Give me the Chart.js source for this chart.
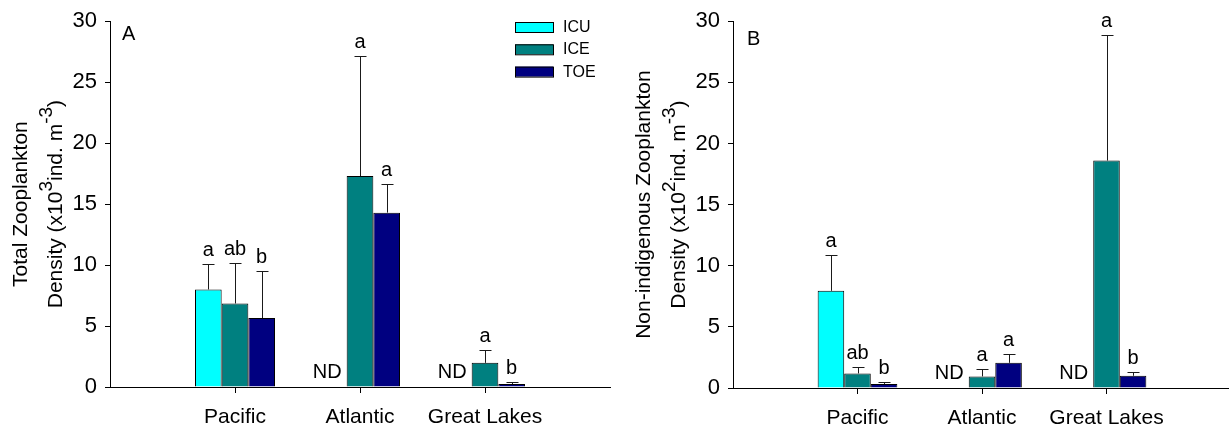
<!DOCTYPE html>
<html>
<head>
<meta charset="utf-8">
<script src="https://cdn.jsdelivr.net/npm/chart.js@4.4.1/dist/chart.umd.min.js"></script>
<style>
  html, body { margin: 0; padding: 0; background: #fff; overflow: hidden; width: 1229px; height: 428px; }
  canvas { position: absolute; top: 0; }
  #panelA { left: 0; }
  #panelB { left: 623px; }
</style>
</head>
<body>
<canvas id="panelA" width="622" height="428"></canvas>
<canvas id="panelB" width="622" height="428"></canvas>
<script>
// Categories and series
const regions = ['Pacific', 'Atlantic', 'Great Lakes'];
const seriesNames = ['ICU', 'ICE', 'TOE'];
const seriesColors = ['#00FFFF', '#008080', '#000080'];
const yTickValues = [0, 5, 10, 15, 20, 25, 30];

// Panel A: total zooplankton density (x10^3 ind. m^-3), means
const totalICU = [8.0, null, null];
const totalICE = [6.85, 17.3, 1.98];
const totalTOE = [5.65, 14.3, 0.24];
// Panel A: standard errors
const totalICUse = [2.1, null, null];
const totalICEse = [3.3, 9.85, 1.09];
const totalTOEse = [3.9, 2.35, 0.14];
// Panel A: significance letters
const totalICUsig = ['a', null, null];
const totalICEsig = ['ab', 'a', 'a'];
const totalTOEsig = ['b', 'a', 'b'];

// Panel B: non-indigenous zooplankton density (x10^2 ind. m^-3), means
const nisICU = [7.95, null, null];
const nisICE = [1.19, 0.95, 18.6];
const nisTOE = [0.33, 2.06, 1.0];
// Panel B: standard errors
const nisICUse = [2.95, null, null];
const nisICEse = [0.49, 0.57, 10.3];
const nisTOEse = [0.16, 0.76, 0.27];
// Panel B: significance letters
const nisICUsig = ['a', null, null];
const nisICEsig = ['ab', 'a', 'a'];
const nisTOEsig = ['b', 'a', 'b'];

const FONT = "'Liberation Sans', Arial, Helvetica, sans-serif";
Chart.defaults.font.family = FONT;
Chart.defaults.color = '#000';

// Blank slots on either side give the empty margins of the category axis
const padded = arr => [null, ...arr, null];
const axisLabels = ['', ...regions, ''];

// Draws a text line rotated 90° with optional superscript runs
function drawRotatedRich(ctx, parts, cx, cy, size) {
  ctx.save();
  ctx.translate(cx, cy);
  ctx.rotate(-Math.PI / 2);
  ctx.textBaseline = 'middle';
  ctx.textAlign = 'left';
  const fontFor = p => `${p.sup ? Math.round(size * 0.9) : size}px ${FONT}`;
  let total = 0;
  parts.forEach(p => { ctx.font = fontFor(p); total += ctx.measureText(p.t).width; });
  let x = -total / 2;
  parts.forEach(p => {
    ctx.font = fontFor(p);
    ctx.fillStyle = '#000';
    ctx.fillText(p.t, x, p.sup ? -size * 0.45 : 0);
    x += ctx.measureText(p.t).width;
  });
  ctx.restore();
}

// Error bars, letters, ND marks, axis title, panel letter and legend
function makeDecor(cfg) {
  return {
    id: 'decor' + cfg.letter,
    afterDatasetsDraw(chart) {
      const ctx = chart.ctx;
      const y = chart.scales.y;
      const zero = y.getPixelForValue(0);
      ctx.save();
      cfg.means.forEach((arr, s) => {
        const meta = chart.getDatasetMeta(s);
        arr.forEach((v, i) => {
          if (v == null) {
            // no data for this series: write ND beside the next bar
            const next = chart.getDatasetMeta(s + 1).data[i + 1];
            ctx.font = `20px ${FONT}`;
            ctx.fillStyle = '#000';
            ctx.textAlign = 'right';
            ctx.textBaseline = 'alphabetic';
            ctx.fillText('ND', next.x - next.width / 2 - 5, zero - 9);
            return;
          }
          const bar = meta.data[i + 1];
          const top = Math.round(y.getPixelForValue(v + cfg.se[s][i])) + 0.5;
          const x = Math.round(bar.x) + 0.5;
          ctx.strokeStyle = '#1a1a1a';
          ctx.lineWidth = 1;
          ctx.beginPath();
          ctx.moveTo(x, bar.y);
          ctx.lineTo(x, top);
          ctx.moveTo(x - 6, top);
          ctx.lineTo(x + 6, top);
          ctx.stroke();
          const sig = cfg.sig[s][i];
          if (sig) {
            ctx.font = `20px ${FONT}`;
            ctx.fillStyle = '#000';
            ctx.textAlign = 'center';
            ctx.textBaseline = 'alphabetic';
            ctx.fillText(sig, bar.x, top - 9);
          }
        });
      });
      ctx.restore();
    },
    afterDraw(chart) {
      const ctx = chart.ctx;
      const area = chart.chartArea;
      const cy = (area.top + area.bottom) / 2;
      drawRotatedRich(ctx, cfg.title1, 21, cy, 21);
      drawRotatedRich(ctx, cfg.title2, 56, cy, 21);
      ctx.save();
      ctx.font = `20px ${FONT}`;
      ctx.fillStyle = '#000';
      ctx.textAlign = 'left';
      ctx.textBaseline = 'alphabetic';
      ctx.fillText(cfg.letter, cfg.letterX, cfg.letterY);
      if (cfg.legend) {
        seriesNames.forEach((name, k) => {
          const top = 22 + k * 22.3;
          ctx.fillStyle = seriesColors[k];
          ctx.fillRect(515, top, 38, 10);
          ctx.strokeStyle = '#000';
          ctx.lineWidth = 1;
          ctx.strokeRect(515.5, top + 0.5, 38, 10);
          ctx.fillStyle = '#000';
          ctx.font = `16px ${FONT}`;
          ctx.textBaseline = 'middle';
          ctx.fillText(name, 563, top + 5.5);
        });
      }
      ctx.restore();
    }
  };
}

function buildChart(canvasId, means, cfg) {
  return new Chart(document.getElementById(canvasId), {
    type: 'bar',
    data: {
      labels: axisLabels,
      datasets: seriesNames.map((name, s) => ({
        label: name,
        data: padded(means[s]),
        backgroundColor: seriesColors[s],
        borderColor: '#000',
        borderWidth: 1,
        categoryPercentage: 0.64,
        barPercentage: 1.0
      }))
    },
    options: {
      responsive: false,
      animation: false,
      devicePixelRatio: 1,
      layout: { padding: cfg.padding },
      plugins: { legend: { display: false }, tooltip: { enabled: false } },
      scales: {
        x: {
          type: 'category',
          offset: false,
          grid: {
            offset: false,
            drawOnChartArea: false,
            drawTicks: true,
            tickLength: 6,
            tickColor: c => (c.index > 0 && c.index < axisLabels.length - 1) ? '#000' : 'rgba(0,0,0,0)'
          },
          border: { color: '#000', width: 1 },
          ticks: { autoSkip: false, maxRotation: 0, font: { size: 21 }, color: '#000', padding: 12 },
          afterFit: sc => { sc.height = cfg.xHeight; }
        },
        y: {
          min: 0,
          max: 30,
          afterBuildTicks: sc => { sc.ticks = yTickValues.map(v => ({ value: v })); },
          grid: { drawOnChartArea: false, tickLength: 5, color: '#000' },
          border: { color: '#000', width: 1 },
          ticks: { font: { size: 22 }, color: '#000', padding: 8 },
          afterFit: sc => { sc.width = 110; }
        }
      }
    },
    plugins: [makeDecor(Object.assign({ means }, cfg))]
  });
}

buildChart('panelA', [totalICU, totalICE, totalTOE], {
  letter: 'A', letterX: 122, letterY: 39.5,
  se: [totalICUse, totalICEse, totalTOEse],
  sig: [totalICUsig, totalICEsig, totalTOEsig],
  legend: true,
  padding: { top: 18, right: 10, left: 0, bottom: 0 },
  xHeight: 41,
  title1: [{ t: 'Total Zooplankton' }],
  title2: [{ t: 'Density (x10' }, { t: '3', sup: true }, { t: 'ind. m' }, { t: '-3', sup: true }, { t: ')' }]
});

buildChart('panelB', [nisICU, nisICE, nisTOE], {
  letter: 'B', letterX: 124, letterY: 45,
  se: [nisICUse, nisICEse, nisTOEse],
  sig: [nisICUsig, nisICEsig, nisTOEsig],
  legend: false,
  padding: { top: 21, right: 14, left: 0, bottom: 0 },
  xHeight: 40,
  title1: [{ t: 'Non-indigenous Zooplankton' }],
  title2: [{ t: 'Density (x10' }, { t: '2', sup: true }, { t: 'ind. m' }, { t: '-3', sup: true }, { t: ')' }]
});
</script>
</body>
</html>
